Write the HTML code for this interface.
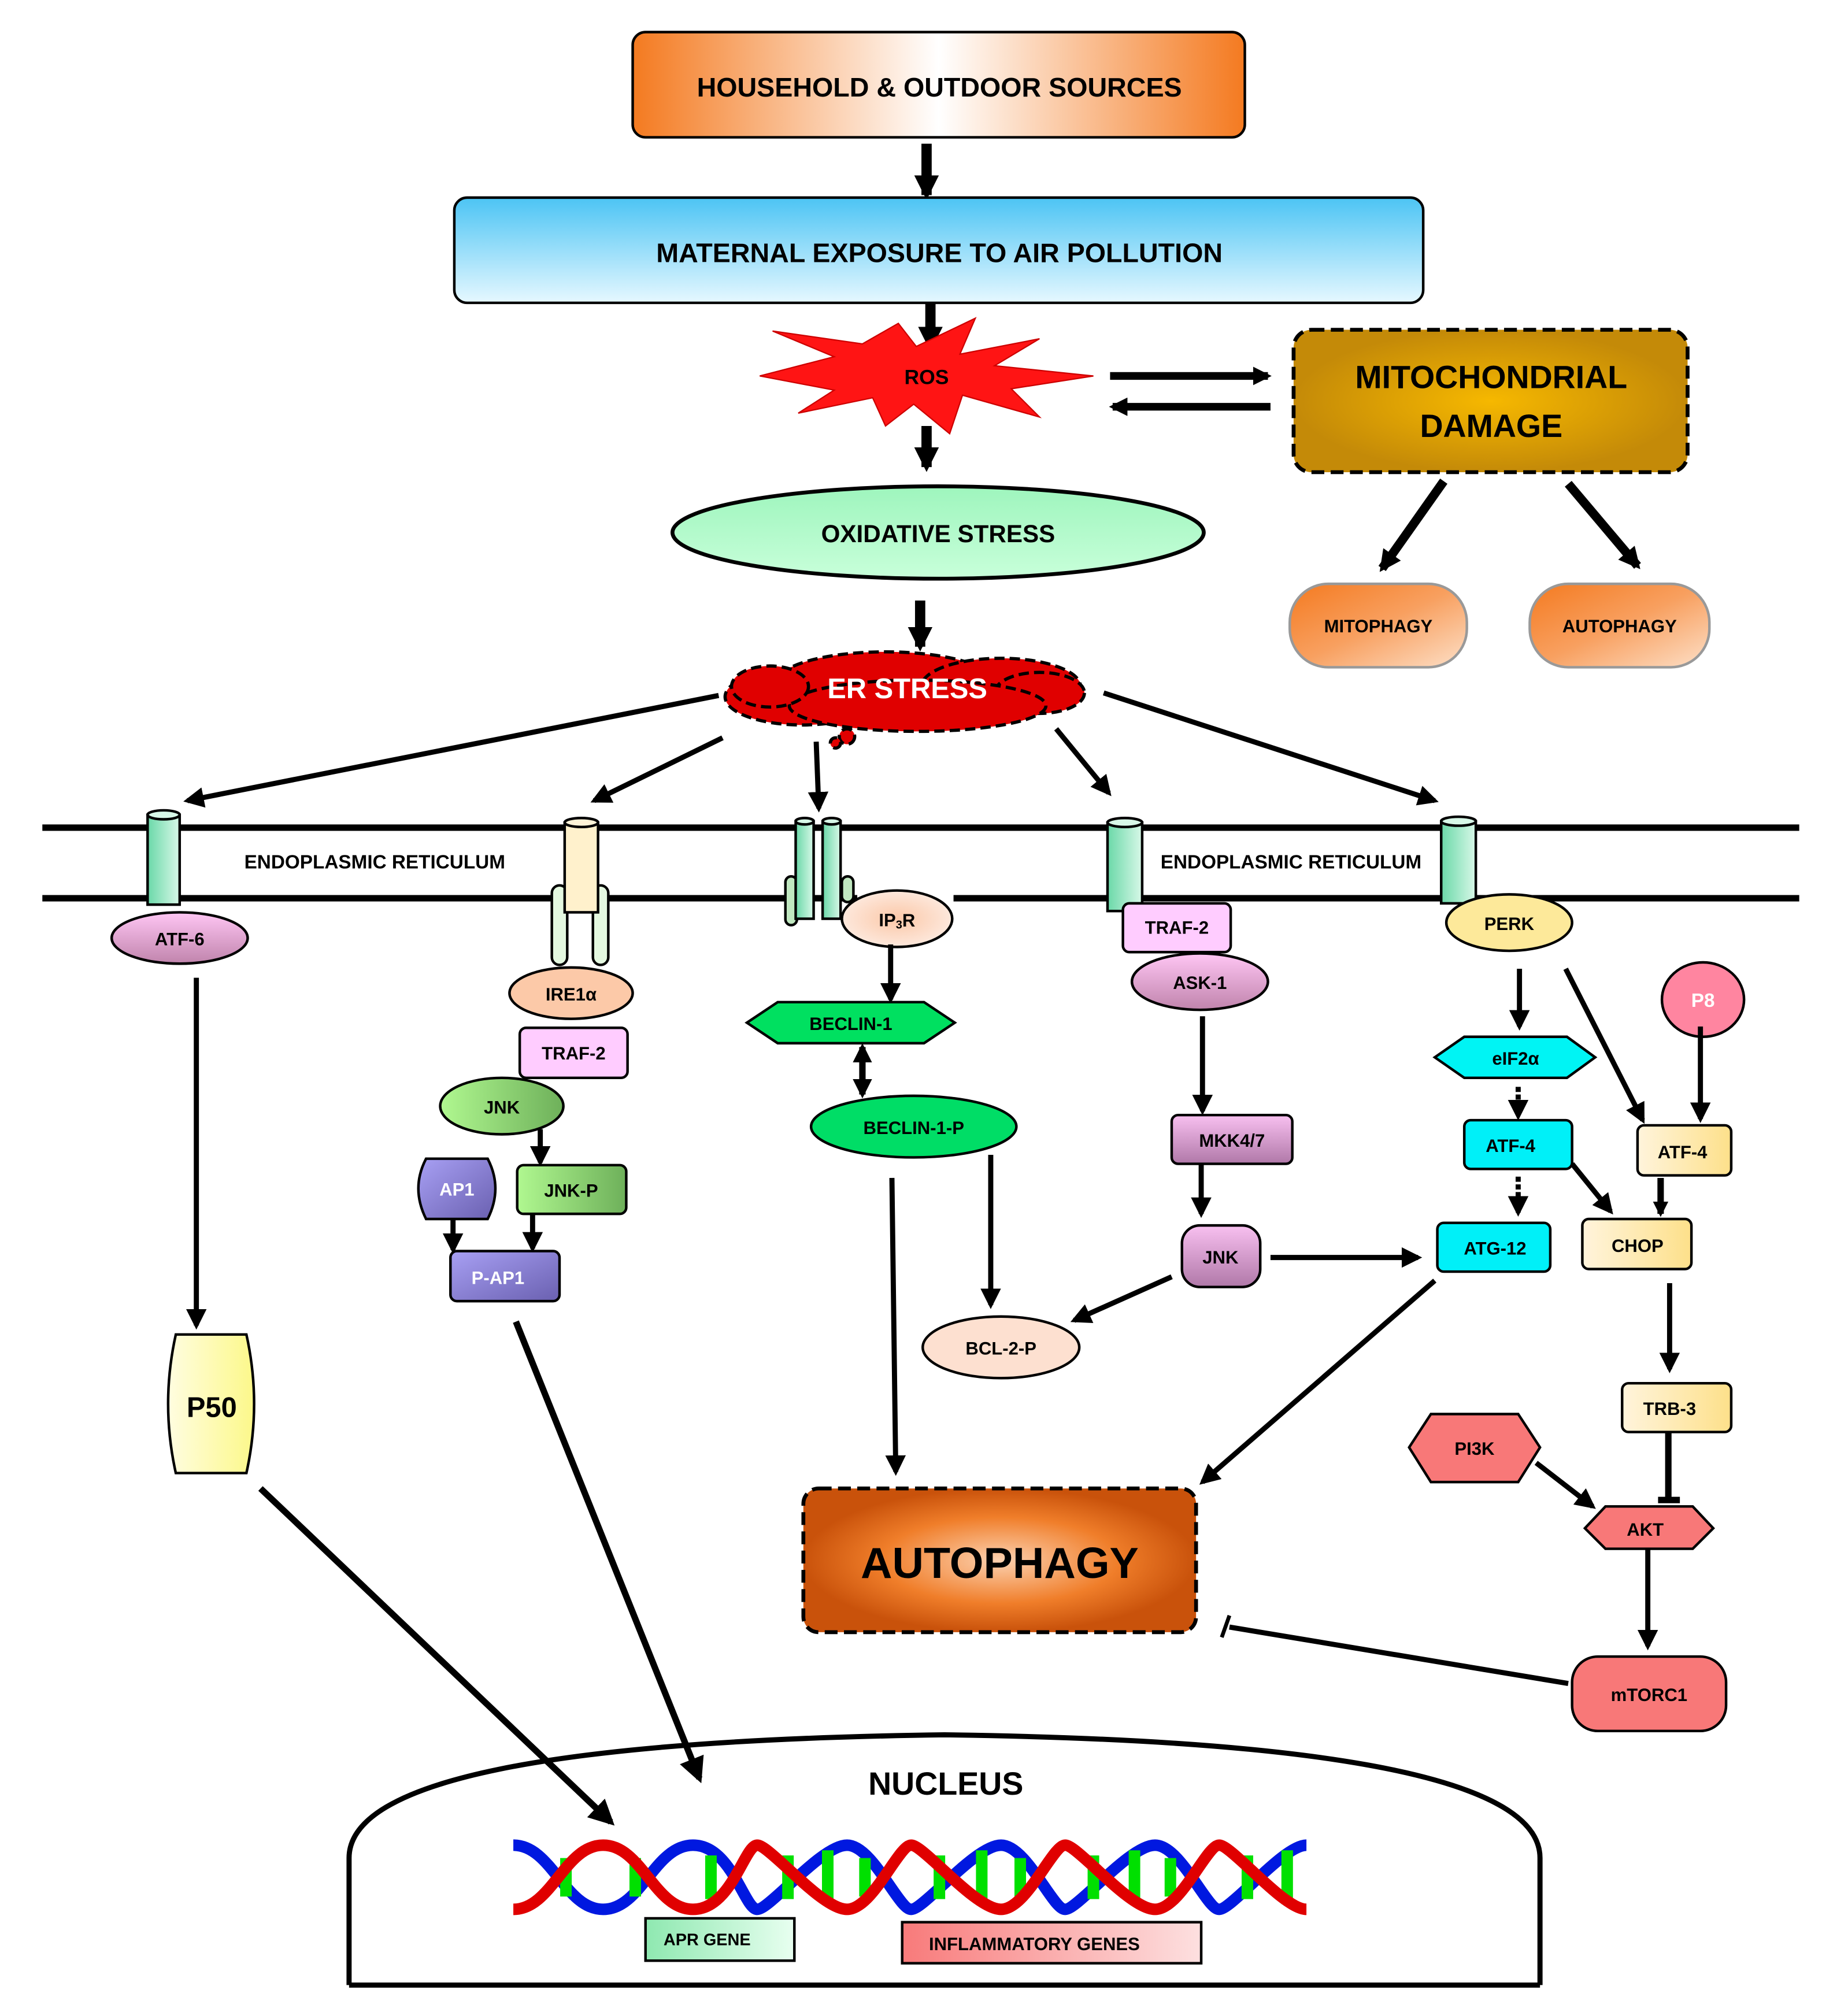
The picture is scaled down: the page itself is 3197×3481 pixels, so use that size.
<!DOCTYPE html>
<html><head><meta charset="utf-8"><style>
html,body{margin:0;padding:0;background:#fff}
svg{display:block}
text{font-family:"Liberation Sans",sans-serif;font-weight:bold;text-anchor:middle;dominant-baseline:central}
</style></head><body>
<svg width="3197" height="3481" viewBox="0 0 1440 1568" preserveAspectRatio="none" xmlns="http://www.w3.org/2000/svg">
<defs>
<marker id="ah" viewBox="0 0 10 10" refX="8" refY="5" markerWidth="4" markerHeight="4" orient="auto"><path d="M0,0L10,5L0,10z" fill="#000"/></marker>
<marker id="ahb" viewBox="0 0 10 10" refX="8" refY="5" markerWidth="2.4" markerHeight="2.4" orient="auto"><path d="M0,0L10,5L0,10z" fill="#000"/></marker>
<marker id="ahs" viewBox="0 0 10 10" refX="8" refY="5" markerWidth="3" markerHeight="3" orient="auto-start-reverse"><path d="M0,0L10,5L0,10z" fill="#000"/></marker>
<linearGradient id="gOr" x1="0" x2="1"><stop offset="0" stop-color="#f47a20"/><stop offset=".5" stop-color="#fff"/><stop offset="1" stop-color="#f47a20"/></linearGradient>
<linearGradient id="gBl" x1="0" y1="0" x2="0" y2="1"><stop offset="0" stop-color="#4cc4f4"/><stop offset="1" stop-color="#e6f8ff"/></linearGradient>
<radialGradient id="gGold"><stop offset="0" stop-color="#f6b800"/><stop offset="1" stop-color="#c48a08"/></radialGradient>
<radialGradient id="gAut"><stop offset="0" stop-color="#fcd1b0"/><stop offset=".6" stop-color="#f07e2a"/><stop offset="1" stop-color="#c9520b"/></radialGradient>
<linearGradient id="gPill" x1="0" y1="0" x2="1" y2="1"><stop offset="0" stop-color="#f47a20"/><stop offset=".5" stop-color="#f8a060"/><stop offset="1" stop-color="#fde0c8"/></linearGradient>
<linearGradient id="gOx" x1="0" y1="0" x2="0" y2="1"><stop offset="0" stop-color="#9ef5bd"/><stop offset="1" stop-color="#c8ffda"/></linearGradient>
<linearGradient id="gPk" x1="0" y1="0" x2="0" y2="1"><stop offset="0" stop-color="#ffc6f4"/><stop offset="1" stop-color="#c084ac"/></linearGradient>
<linearGradient id="gGr" x1="0" x2="1"><stop offset="0" stop-color="#b0f890"/><stop offset="1" stop-color="#6eb05a"/></linearGradient>
<linearGradient id="gPu" x1="0" y1="0" x2="1" y2="1"><stop offset="0" stop-color="#a8a0f4"/><stop offset="1" stop-color="#6a60b0"/></linearGradient>
<linearGradient id="gCy" x1="0" x2="1"><stop offset="0" stop-color="#6ad8a8"/><stop offset="1" stop-color="#d8f8e8"/></linearGradient>
<linearGradient id="gCr" x1="0" x2="1"><stop offset="0" stop-color="#fff4dc"/><stop offset="1" stop-color="#fde08a"/></linearGradient>
<linearGradient id="gY" x1="0" x2="1"><stop offset="0" stop-color="#fffde0"/><stop offset="1" stop-color="#fcf88a"/></linearGradient>
<linearGradient id="gMk" x1="0" y1="0" x2="0" y2="1"><stop offset="0" stop-color="#f8c0f0"/><stop offset="1" stop-color="#b078a8"/></linearGradient>
<linearGradient id="gApr" x1="0" x2="1"><stop offset="0" stop-color="#8ee8b0"/><stop offset="1" stop-color="#e8fff0"/></linearGradient>
<linearGradient id="gInf" x1="0" x2="1"><stop offset="0" stop-color="#f87a7a"/><stop offset="1" stop-color="#fde0e0"/></linearGradient>
<radialGradient id="gIp"><stop offset="0" stop-color="#fcc8a8"/><stop offset="1" stop-color="#fde8dc"/></radialGradient>
</defs>

<rect x="493" y="25" width="477" height="82" rx="10" fill="url(#gOr)" stroke="#000" stroke-width="2"/>
<text x="732" y="68" font-size="21">HOUSEHOLD &amp; OUTDOOR SOURCES</text>
<line x1="722" y1="112" x2="722" y2="152" stroke="#000" stroke-width="8" marker-end="url(#ahb)"/>
<rect x="354" y="154" width="755" height="82" rx="10" fill="url(#gBl)" stroke="#000" stroke-width="2"/>
<text x="732" y="197" font-size="21">MATERNAL EXPOSURE  TO AIR POLLUTION</text>
<line x1="725" y1="236" x2="725" y2="270" stroke="#000" stroke-width="8" marker-end="url(#ahb)"/>

<polygon points="592,293 650,278 602,258 672,268 700,252 714,270 760,248 748,276 810,264 775,285 852,293 788,303 810,325 750,308 740,338 712,315 690,332 680,310 622,322 650,304" fill="#ff1414" stroke="#c00" stroke-width="1"/>
<text x="722" y="294" font-size="16">ROS</text>
<line x1="722" y1="332" x2="722" y2="364" stroke="#000" stroke-width="8" marker-end="url(#ahb)"/>

<line x1="865" y1="293" x2="988" y2="293" stroke="#000" stroke-width="6" marker-end="url(#ahb)"/>
<line x1="990" y1="317" x2="867" y2="317" stroke="#000" stroke-width="6" marker-end="url(#ahb)"/>

<rect x="1008" y="257" width="307" height="111" rx="14" fill="url(#gGold)" stroke="#000" stroke-width="3" stroke-dasharray="10,5"/>
<text x="1162" y="294" font-size="25">MITOCHONDRIAL</text>
<text x="1162" y="332" font-size="25">DAMAGE</text>
<line x1="1125" y1="375" x2="1077" y2="443" stroke="#000" stroke-width="7" marker-end="url(#ahb)"/>
<line x1="1222" y1="377" x2="1276" y2="441" stroke="#000" stroke-width="7" marker-end="url(#ahb)"/>
<rect x="1005" y="455" width="138" height="65" rx="30" fill="url(#gPill)" stroke="#999" stroke-width="2"/>
<text x="1074" y="488" font-size="14">MITOPHAGY</text>
<rect x="1192" y="455" width="140" height="65" rx="30" fill="url(#gPill)" stroke="#999" stroke-width="2"/>
<text x="1262" y="488" font-size="14">AUTOPHAGY</text>

<ellipse cx="731" cy="415" rx="207" ry="36" fill="url(#gOx)" stroke="#000" stroke-width="3"/>
<text x="731" y="416" font-size="19">OXIDATIVE STRESS</text>
<line x1="717" y1="468" x2="717" y2="504" stroke="#000" stroke-width="8" marker-end="url(#ahb)"/>

<g fill="#e00000" stroke="#000" stroke-width="2.5" stroke-dasharray="8,4">
<ellipse cx="625" cy="543" rx="60" ry="22"/>
<ellipse cx="690" cy="532" rx="85" ry="24"/>
<ellipse cx="780" cy="535" rx="62" ry="22"/>
<ellipse cx="810" cy="540" rx="35" ry="16"/>
<ellipse cx="715" cy="550" rx="100" ry="20"/>
<ellipse cx="600" cy="535" rx="30" ry="16"/>
<circle cx="660" cy="574" r="6"/><circle cx="651" cy="579" r="4"/>
</g>
<text x="707" y="537" font-size="22" fill="#fff">ER STRESS</text>

<g stroke="#000" stroke-width="4" fill="none" marker-end="url(#ah)">
<line x1="560" y1="542" x2="146" y2="624"/>
<line x1="563" y1="575" x2="463" y2="624"/>
<line x1="636" y1="578" x2="638" y2="630"/>
<line x1="823" y1="568" x2="864" y2="618"/>
<line x1="860" y1="540" x2="1118" y2="624"/>
</g>

<line x1="33" y1="645" x2="1402" y2="645" stroke="#000" stroke-width="5"/>
<line x1="33" y1="700" x2="668" y2="700" stroke="#000" stroke-width="5"/>
<line x1="743" y1="700" x2="1402" y2="700" stroke="#000" stroke-width="5"/>
<text x="292" y="672" font-size="15">ENDOPLASMIC RETICULUM</text>
<text x="1006" y="672" font-size="15">ENDOPLASMIC RETICULUM</text>

<g stroke="#000" stroke-width="2">
<rect x="115" y="635" width="25" height="70" fill="url(#gCy)"/><ellipse cx="127.5" cy="635" rx="12.5" ry="3.5" fill="#d8f8e8"/>
<rect x="430" y="690" width="12" height="62" rx="6" fill="#e4f8e0"/><rect x="462" y="690" width="12" height="62" rx="6" fill="#e4f8e0"/>
<rect x="440" y="641" width="26" height="70" fill="#fff1cc"/><ellipse cx="453" cy="641" rx="13" ry="3.5" fill="#fff4d8"/>
<rect x="612" y="683" width="9" height="38" rx="4.5" fill="#c0e8c0"/><rect x="656" y="683" width="9" height="20" rx="4.5" fill="#c0e8c0"/>
<rect x="620" y="640" width="14" height="76" fill="url(#gCy)"/><ellipse cx="627" cy="640" rx="7" ry="2.5" fill="#d8f8e8"/>
<rect x="641" y="640" width="14" height="76" fill="url(#gCy)"/><ellipse cx="648" cy="640" rx="7" ry="2.5" fill="#d8f8e8"/>
<rect x="863" y="641" width="27" height="69" fill="url(#gCy)"/><ellipse cx="876.5" cy="641" rx="13.5" ry="3.5" fill="#d8f8e8"/>
<rect x="1123" y="640" width="27" height="64" fill="url(#gCy)"/><ellipse cx="1136.5" cy="640" rx="13.5" ry="3.5" fill="#d8f8e8"/>
</g>

<ellipse cx="140" cy="731" rx="53" ry="20" fill="url(#gPk)" stroke="#000" stroke-width="2"/>
<text x="140" y="732" font-size="14">ATF-6</text>
<line x1="153" y1="762" x2="153" y2="1033" stroke="#000" stroke-width="4" marker-end="url(#ah)"/>
<path d="M137,1040 H192 Q204,1094 192,1148 H137 Q125,1094 137,1040 Z" fill="url(#gY)" stroke="#000" stroke-width="2"/>
<text x="165" y="1097" font-size="22" font-weight="normal">P50</text>
<line x1="203" y1="1160" x2="476" y2="1420" stroke="#000" stroke-width="5" marker-end="url(#ah)"/>

<ellipse cx="445" cy="774" rx="48" ry="20" fill="#fcc9a8" stroke="#000" stroke-width="2"/>
<text x="445" y="775" font-size="14">IRE1α</text>
<rect x="405" y="801" width="84" height="39" rx="5" fill="#ffccff" stroke="#000" stroke-width="2"/>
<text x="447" y="821" font-size="14">TRAF-2</text>
<ellipse cx="391" cy="862" rx="48" ry="22" fill="url(#gGr)" stroke="#000" stroke-width="2"/>
<text x="391" y="863" font-size="14">JNK</text>
<line x1="421" y1="880" x2="421" y2="906" stroke="#000" stroke-width="4" marker-end="url(#ah)"/>
<path d="M332,903 H380 Q392,926 380,950 H332 Q320,926 332,903 Z" fill="url(#gPu)" stroke="#000" stroke-width="2"/>
<text x="356" y="927" font-size="14" fill="#fff">AP1</text>
<rect x="403" y="908" width="85" height="38" rx="5" fill="url(#gGr)" stroke="#000" stroke-width="2"/>
<text x="445" y="928" font-size="14">JNK-P</text>
<line x1="353" y1="950" x2="353" y2="974" stroke="#000" stroke-width="4" marker-end="url(#ah)"/>
<line x1="415" y1="946" x2="415" y2="973" stroke="#000" stroke-width="4" marker-end="url(#ah)"/>
<rect x="351" y="975" width="85" height="39" rx="5" fill="url(#gPu)" stroke="#000" stroke-width="2"/>
<text x="388" y="996" font-size="14" fill="#fff">P-AP1</text>
<line x1="402" y1="1030" x2="545" y2="1386" stroke="#000" stroke-width="5" marker-end="url(#ah)"/>

<ellipse cx="699" cy="716" rx="43" ry="22" fill="url(#gIp)" stroke="#000" stroke-width="2"/>
<text x="699" y="717" font-size="14">IP<tspan font-size="9" dy="4">3</tspan><tspan dy="-4">R</tspan></text>
<line x1="694" y1="736" x2="694" y2="779" stroke="#000" stroke-width="4" marker-end="url(#ah)"/>
<polygon points="582,797 606,781 720,781 744,797 720,813 606,813" fill="#00e060" stroke="#000" stroke-width="2"/>
<text x="663" y="798" font-size="14">BECLIN-1</text>
<line x1="672" y1="816" x2="672" y2="853" stroke="#000" stroke-width="5" marker-start="url(#ahs)" marker-end="url(#ahs)"/>
<ellipse cx="712" cy="878" rx="80" ry="24" fill="#00dd66" stroke="#000" stroke-width="2"/>
<text x="712" y="879" font-size="14">BECLIN-1-P</text>
<line x1="695" y1="918" x2="698" y2="1147" stroke="#000" stroke-width="4" marker-end="url(#ah)"/>
<line x1="772" y1="900" x2="772" y2="1017" stroke="#000" stroke-width="4" marker-end="url(#ah)"/>
<ellipse cx="780" cy="1050" rx="61" ry="24" fill="#fde0d0" stroke="#000" stroke-width="2"/>
<text x="780" y="1051" font-size="14">BCL-2-P</text>

<rect x="875" y="704" width="84" height="38" rx="5" fill="#ffccff" stroke="#000" stroke-width="2"/>
<text x="917" y="723" font-size="14">TRAF-2</text>
<ellipse cx="935" cy="765" rx="53" ry="22" fill="url(#gPk)" stroke="#000" stroke-width="2"/>
<text x="935" y="766" font-size="14">ASK-1</text>
<line x1="937" y1="792" x2="937" y2="866" stroke="#000" stroke-width="4" marker-end="url(#ah)"/>
<rect x="913" y="869" width="94" height="38" rx="5" fill="url(#gMk)" stroke="#000" stroke-width="2"/>
<text x="960" y="889" font-size="14">MKK4/7</text>
<line x1="936" y1="907" x2="936" y2="946" stroke="#000" stroke-width="4" marker-end="url(#ah)"/>
<rect x="921" y="955" width="61" height="48" rx="14" fill="url(#gMk)" stroke="#000" stroke-width="2"/>
<text x="951" y="980" font-size="14">JNK</text>
<line x1="913" y1="995" x2="837" y2="1029" stroke="#000" stroke-width="4" marker-end="url(#ah)"/>
<line x1="990" y1="980" x2="1105" y2="980" stroke="#000" stroke-width="4" marker-end="url(#ah)"/>

<ellipse cx="1176" cy="719" rx="49" ry="22" fill="#fde99a" stroke="#000" stroke-width="2"/>
<text x="1176" y="720" font-size="14">PERK</text>
<line x1="1184" y1="755" x2="1184" y2="800" stroke="#000" stroke-width="4" marker-end="url(#ah)"/>
<polygon points="1118,824 1141,808 1221,808 1243,824 1221,840 1141,840" fill="#00f4f4" stroke="#000" stroke-width="2"/>
<text x="1181" y="825" font-size="14">eIF2α</text>
<line x1="1183" y1="847" x2="1183" y2="870" stroke="#000" stroke-width="4" stroke-dasharray="4,2" marker-end="url(#ah)"/>
<rect x="1141" y="873" width="84" height="38" rx="5" fill="#00f0f8" stroke="#000" stroke-width="2"/>
<text x="1177" y="893" font-size="14">ATF-4</text>
<line x1="1183" y1="917" x2="1183" y2="945" stroke="#000" stroke-width="4" stroke-dasharray="4,2" marker-end="url(#ah)"/>
<rect x="1120" y="953" width="88" height="38" rx="5" fill="#00f0f8" stroke="#000" stroke-width="2"/>
<text x="1165" y="973" font-size="14">ATG-12</text>
<line x1="1118" y1="998" x2="937" y2="1155" stroke="#000" stroke-width="4" marker-end="url(#ah)"/>

<line x1="1220" y1="755" x2="1280" y2="873" stroke="#000" stroke-width="4" marker-end="url(#ah)"/>
<ellipse cx="1327" cy="779" rx="32" ry="29" fill="#ff85a0" stroke="#000" stroke-width="2"/>
<text x="1327" y="780" font-size="15" font-weight="normal" fill="#fff">P8</text>
<line x1="1325" y1="800" x2="1325" y2="872" stroke="#000" stroke-width="4" marker-end="url(#ah)"/>
<rect x="1276" y="877" width="73" height="39" rx="5" fill="url(#gCr)" stroke="#000" stroke-width="2"/>
<text x="1311" y="898" font-size="14">ATF-4</text>
<line x1="1225" y1="907" x2="1255" y2="944" stroke="#000" stroke-width="4" marker-end="url(#ah)"/>
<line x1="1294" y1="918" x2="1294" y2="946" stroke="#000" stroke-width="5" marker-end="url(#ahb)"/>
<rect x="1233" y="950" width="85" height="39" rx="5" fill="url(#gCr)" stroke="#000" stroke-width="2"/>
<text x="1276" y="971" font-size="14">CHOP</text>
<line x1="1301" y1="1000" x2="1301" y2="1067" stroke="#000" stroke-width="4" marker-end="url(#ah)"/>
<rect x="1264" y="1078" width="85" height="38" rx="5" fill="url(#gCr)" stroke="#000" stroke-width="2"/>
<text x="1301" y="1098" font-size="14">TRB-3</text>
<line x1="1300" y1="1116" x2="1300" y2="1168" stroke="#000" stroke-width="5"/>
<line x1="1292" y1="1169" x2="1309" y2="1169" stroke="#000" stroke-width="5"/>
<polygon points="1098,1128 1115,1102 1183,1102 1200,1128 1183,1155 1115,1155" fill="#f87878" stroke="#000" stroke-width="2"/>
<text x="1149" y="1129" font-size="14">PI3K</text>
<line x1="1197" y1="1140" x2="1241" y2="1174" stroke="#000" stroke-width="4" marker-end="url(#ah)"/>
<polygon points="1235,1191 1251,1174 1319,1174 1335,1191 1319,1207 1251,1207" fill="#f87878" stroke="#000" stroke-width="2"/>
<text x="1282" y="1192" font-size="14">AKT</text>
<line x1="1284" y1="1207" x2="1284" y2="1283" stroke="#000" stroke-width="4" marker-end="url(#ah)"/>
<rect x="1225" y="1291" width="120" height="58" rx="20" fill="#f87878" stroke="#000" stroke-width="2"/>
<text x="1285" y="1321" font-size="14">mTORC1</text>
<line x1="1222" y1="1312" x2="958" y2="1268" stroke="#000" stroke-width="4"/>
<line x1="952" y1="1276" x2="958" y2="1259" stroke="#000" stroke-width="3"/>

<rect x="626" y="1160" width="306" height="112" rx="12" fill="url(#gAut)" stroke="#000" stroke-width="3" stroke-dasharray="10,5"/>
<text x="779" y="1218" font-size="34">AUTOPHAGY</text>

<path d="M272,1547 L272,1448 Q272,1358 736,1352 Q1200,1358 1200,1448 L1200,1547" fill="none" stroke="#000" stroke-width="4"/>
<line x1="272" y1="1547" x2="1200" y2="1547" stroke="#000" stroke-width="4"/>
<text x="737" y="1390" font-size="25">NUCLEUS</text>

<path d="M400,1438 C430,1438 440,1488 470,1488 S510,1438 540,1438 S580,1488 590,1488 S640,1438 660,1438 S700,1488 710,1488 S760,1438 780,1438 S820,1488 830,1488 S880,1438 900,1438 S940,1488 950,1488 S1000,1438 1018,1438" fill="none" stroke="#0018e0" stroke-width="9"/>
<g stroke="#00e000" stroke-width="9">
<line x1="441" y1="1448" x2="441" y2="1478"/><line x1="495" y1="1448" x2="495" y2="1478"/>
<line x1="554" y1="1446" x2="554" y2="1480"/><line x1="614" y1="1446" x2="614" y2="1480"/>
<line x1="645" y1="1442" x2="645" y2="1484"/><line x1="674" y1="1448" x2="674" y2="1478"/>
<line x1="732" y1="1446" x2="732" y2="1480"/><line x1="765" y1="1442" x2="765" y2="1484"/>
<line x1="795" y1="1448" x2="795" y2="1478"/><line x1="852" y1="1446" x2="852" y2="1480"/>
<line x1="884" y1="1442" x2="884" y2="1484"/><line x1="912" y1="1448" x2="912" y2="1478"/>
<line x1="972" y1="1446" x2="972" y2="1480"/><line x1="1003" y1="1442" x2="1003" y2="1484"/>
</g>
<path d="M400,1488 C430,1488 440,1438 470,1438 S510,1488 540,1488 S580,1438 590,1438 S640,1488 660,1488 S700,1438 710,1438 S760,1488 780,1488 S820,1438 830,1438 S880,1488 900,1488 S940,1438 950,1438 S1000,1488 1018,1488" fill="none" stroke="#e00000" stroke-width="9"/>

<rect x="503" y="1495" width="116" height="33" fill="url(#gApr)" stroke="#000" stroke-width="2"/>
<text x="551" y="1512" font-size="13">APR GENE</text>
<rect x="703" y="1498" width="233" height="32" fill="url(#gInf)" stroke="#000" stroke-width="2"/>
<text x="806" y="1515" font-size="14">INFLAMMATORY GENES</text>
</svg>
</body></html>
